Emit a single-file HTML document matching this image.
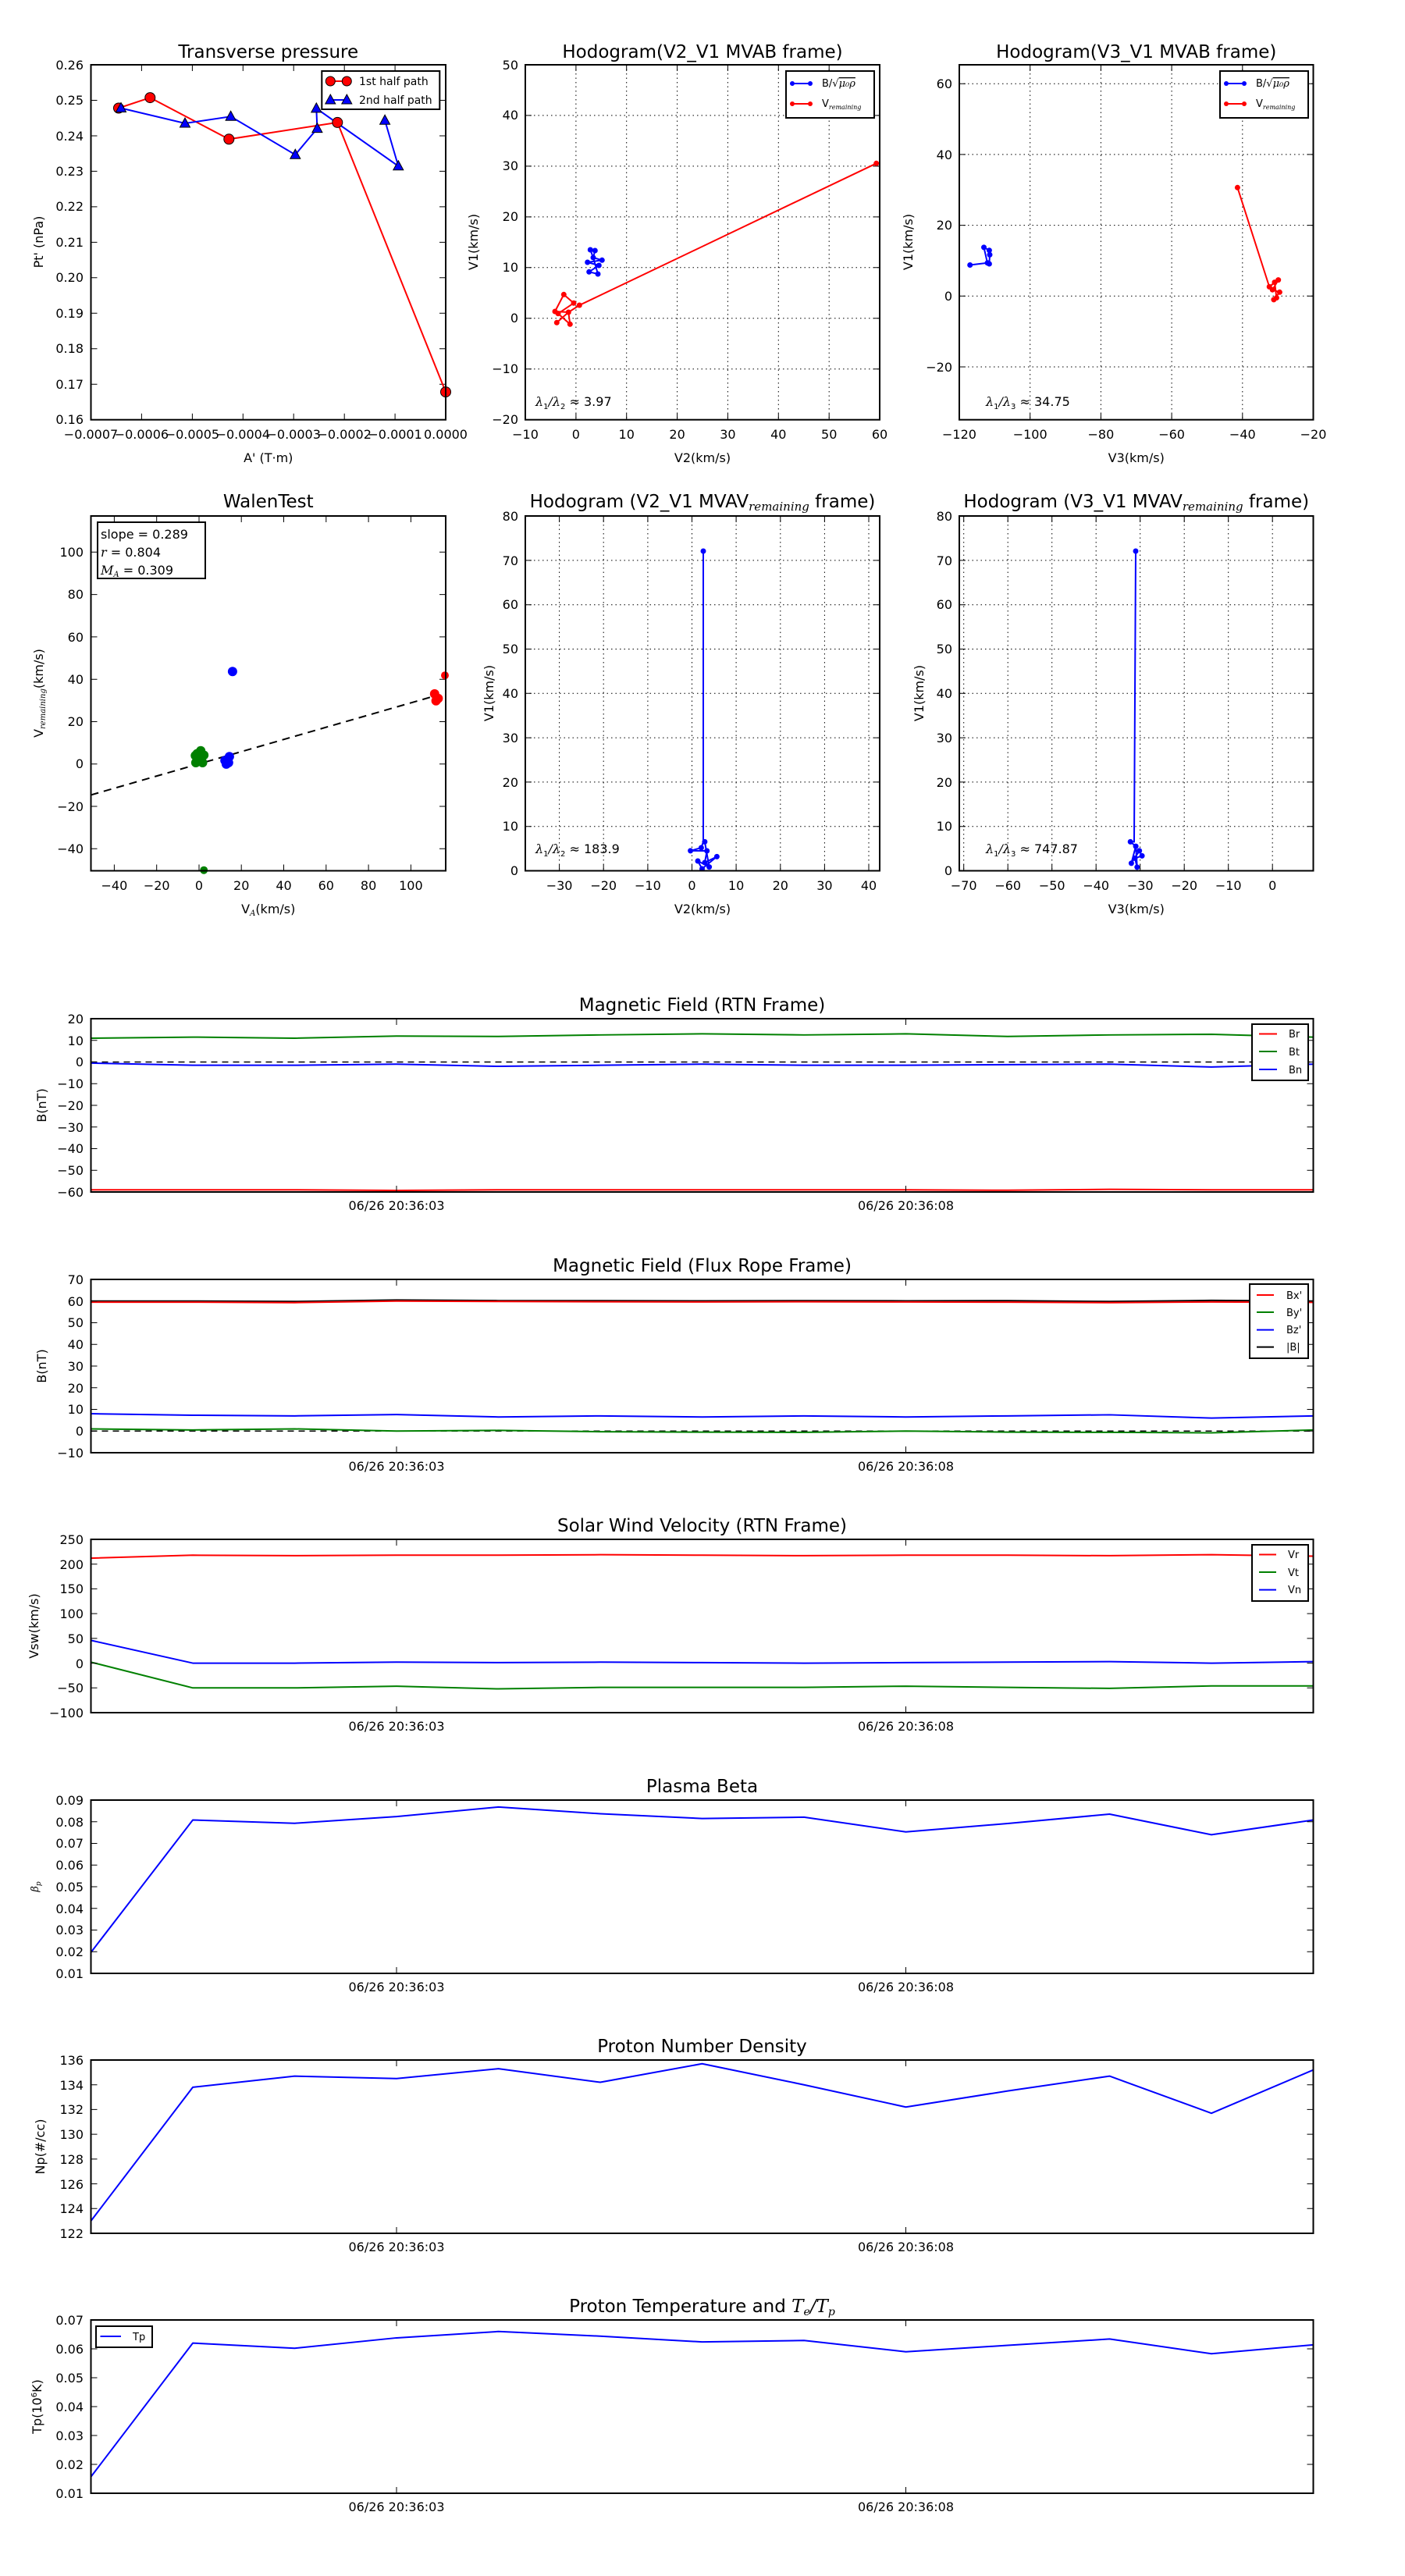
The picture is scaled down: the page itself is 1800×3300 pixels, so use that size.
<!DOCTYPE html>
<html><head><meta charset="utf-8"><style>
html,body{margin:0;padding:0;background:#fff}
svg{display:block}
text{font-family:"DejaVu Sans","Liberation Sans",sans-serif;fill:#000}
.t{font-size:23px;text-anchor:middle}
.k{font-size:16px}
.r{text-anchor:end}
.m{text-anchor:middle}
.fr{fill:none;stroke:#000;stroke-width:2}
.tk{fill:none;stroke:#000;stroke-width:1}
.gd{fill:none;stroke:#000;stroke-width:1;stroke-dasharray:1.5 4}
.ln{fill:none;stroke-width:2;vector-effect:non-scaling-stroke;stroke-linejoin:round}
.it{font-family:"DejaVu Serif","Liberation Serif",serif;font-style:italic}
</style></head><body>
<svg width="1800" height="3300" viewBox="0 0 1800 3300" xmlns="http://www.w3.org/2000/svg">
<rect width="1800" height="3300" fill="#fff"/>

<!-- ===== Plot 1: Transverse pressure ===== -->
<text class="t" x="343.75" y="74">Transverse pressure</text>
<path class="tk" d="M181.4 537.7v-8M246.4 537.7v-8M311.3 537.7v-8M376.2 537.7v-8M441.2 537.7v-8M506.1 537.7v-8M181.4 83v8M246.4 83v8M311.3 83v8M376.2 83v8M441.2 83v8M506.1 83v8
M116.5 492.2h8M116.5 446.8h8M116.5 401.3h8M116.5 355.8h8M116.5 310.4h8M116.5 264.9h8M116.5 219.4h8M116.5 174h8M116.5 128.5h8
M571 492.2h-8M571 446.8h-8M571 401.3h-8M571 355.8h-8M571 310.4h-8M571 264.9h-8M571 219.4h-8M571 174h-8M571 128.5h-8"/>
<g class="k r">
<text x="107" y="543">0.16</text><text x="107" y="498">0.17</text><text x="107" y="452">0.18</text><text x="107" y="407">0.19</text><text x="107" y="361">0.20</text><text x="107" y="316">0.21</text><text x="107" y="270">0.22</text><text x="107" y="225">0.23</text><text x="107" y="180">0.24</text><text x="107" y="134">0.25</text><text x="107" y="89">0.26</text>
</g>
<g class="k m">
<text x="116.5" y="562">−0.0007</text><text x="181.4" y="562">−0.0006</text><text x="246.4" y="562">−0.0005</text><text x="311.3" y="562">−0.0004</text><text x="376.2" y="562">−0.0003</text><text x="441.2" y="562">−0.0002</text><text x="506.1" y="562">−0.0001</text><text x="571" y="562">0.0000</text>
</g>
<text class="k m" x="343.75" y="592">A' (T·m)</text>
<text class="k m" transform="translate(55,310) rotate(-90)">Pt' (nPa)</text>
<polyline fill="none" stroke="#f00" stroke-width="2" points="152,138.5 192.3,125.1 293.3,178.3 432.3,156.9 571,502.1"/>
<polyline fill="none" stroke="#00f" stroke-width="2" points="155,138.5 237,158 295.6,149.3 378.3,198.2 406.4,164.6 405.3,138.9 510.3,212.8 493.1,154.2"/>
<g fill="#f00" stroke="#000" stroke-width="1">
<circle cx="152" cy="138.5" r="6.5"/><circle cx="192.3" cy="125.1" r="6.5"/><circle cx="293.3" cy="178.3" r="6.5"/><circle cx="432.3" cy="156.9" r="6.5"/><circle cx="571" cy="502.1" r="6.5"/>
</g>
<g fill="#00f" stroke="#000" stroke-width="1">
<path d="M155 131.5l6.5 12h-13z"/><path d="M237 151l6.5 12h-13z"/><path d="M295.6 142.3l6.5 12h-13z"/><path d="M378.3 191.2l6.5 12h-13z"/><path d="M406.4 157.6l6.5 12h-13z"/><path d="M405.3 131.9l6.5 12h-13z"/><path d="M510.3 205.8l6.5 12h-13z"/><path d="M493.1 147.2l6.5 12h-13z"/>
</g>
<rect x="412.3" y="91" width="151" height="49" fill="#fff" stroke="#000" stroke-width="2"/>
<line x1="423.3" y1="104" x2="444.3" y2="104" stroke="#f00" stroke-width="2"/>
<circle cx="423.3" cy="104" r="6" fill="#f00" stroke="#000"/><circle cx="444.3" cy="104" r="6" fill="#f00" stroke="#000"/>
<line x1="423.3" y1="128" x2="444.3" y2="128" stroke="#00f" stroke-width="2"/>
<path d="M423.3 121l6.5 12h-13z M444.3 121l6.5 12h-13z" fill="#00f" stroke="#000"/>
<text x="460" y="109" font-size="14">1st half path</text>
<text x="460" y="133" font-size="14">2nd half path</text>
<rect class="fr" x="116.5" y="83" width="454.5" height="454.7"/>

<!-- ===== Plot 2: Hodogram V2_V1 MVAB ===== -->
<text class="t" x="900" y="74">Hodogram(V2_V1 MVAB frame)</text>
<path class="gd" d="M737.9 83V537.7M802.7 83V537.7M867.6 83V537.7M932.4 83V537.7M997.3 83V537.7M1062.2 83V537.7M673 472.7H1127M673 407.8H1127M673 342.8H1127M673 277.9H1127M673 212.9H1127M673 147.9H1127"/>
<path class="tk" d="M737.9 537.7v-8M802.7 537.7v-8M867.6 537.7v-8M932.4 537.7v-8M997.3 537.7v-8M1062.2 537.7v-8M737.9 83v8M802.7 83v8M867.6 83v8M932.4 83v8M997.3 83v8M1062.2 83v8M673 472.7h8M673 407.8h8M673 342.8h8M673 277.9h8M673 212.9h8M673 147.9h8M1127 472.7h-8M1127 407.8h-8M1127 342.8h-8M1127 277.9h-8M1127 212.9h-8M1127 147.9h-8"/>
<g class="k r">
<text x="664" y="543">−20</text><text x="664" y="478">−10</text><text x="664" y="413">0</text><text x="664" y="348">10</text><text x="664" y="283">20</text><text x="664" y="218">30</text><text x="664" y="153">40</text><text x="664" y="89">50</text>
</g>
<g class="k m">
<text x="673" y="562">−10</text><text x="737.9" y="562">0</text><text x="802.7" y="562">10</text><text x="867.6" y="562">20</text><text x="932.4" y="562">30</text><text x="997.3" y="562">40</text><text x="1062.2" y="562">50</text><text x="1127" y="562">60</text>
</g>
<text class="k m" x="900" y="592">V2(km/s)</text>
<text class="k m" transform="translate(612,310) rotate(-90)">V1(km/s)</text>
<polyline fill="none" stroke="#00f" stroke-width="2" points="756.3,320 762.3,321 760,330 771.3,333.3 752.7,336 767.3,340 754.7,348.3 766,351 760,330 756.3,320"/>
<g fill="#00f"><circle cx="756.3" cy="320" r="3.5"/><circle cx="762.3" cy="321" r="3.5"/><circle cx="771.3" cy="333.3" r="3.5"/><circle cx="752.7" cy="336" r="3.5"/><circle cx="767.3" cy="340" r="3.5"/><circle cx="754.7" cy="348.3" r="3.5"/><circle cx="766" cy="351" r="3.5"/><circle cx="760" cy="330" r="3.5"/></g>
<polyline fill="none" stroke="#f00" stroke-width="2" points="713.3,413.3 728.3,400 711,399 722.3,377.3 735,388.3 715,401.7 730.3,415.3 728.3,400 742.3,391 1122.7,209.3"/>
<g fill="#f00"><circle cx="713.3" cy="413.3" r="3.5"/><circle cx="711" cy="399" r="3.5"/><circle cx="722.3" cy="377.3" r="3.5"/><circle cx="742.3" cy="391" r="3.5"/><circle cx="730.3" cy="415.3" r="3.5"/><circle cx="728.3" cy="400" r="3.5"/><circle cx="715" cy="401.7" r="3.5"/><circle cx="735" cy="388.3" r="3.5"/><circle cx="1122.7" cy="209.3" r="3.5"/></g>
<text x="686" y="520" font-size="16"><tspan class="it">λ</tspan><tspan font-size="10" dy="4">1</tspan><tspan dy="-4" class="it">/λ</tspan><tspan font-size="10" dy="4">2</tspan><tspan dy="-4"> ≈ 3.97</tspan></text>
<rect x="1007" y="91" width="113" height="60" fill="#fff" stroke="#000" stroke-width="2"/>
<line x1="1015" y1="107" x2="1038" y2="107" stroke="#00f" stroke-width="2"/><circle cx="1015" cy="107" r="3" fill="#00f"/><circle cx="1038" cy="107" r="3" fill="#00f"/>
<line x1="1015" y1="133" x2="1038" y2="133" stroke="#f00" stroke-width="2"/><circle cx="1015" cy="133" r="3" fill="#f00"/><circle cx="1038" cy="133" r="3" fill="#f00"/>
<text x="1053" y="111" font-size="13">B/√<tspan class="it" text-decoration="overline">μ₀ρ</tspan></text>
<text x="1053" y="137" font-size="13">V<tspan class="it" font-size="8" dy="3">remaining</tspan></text>
<rect class="fr" x="673" y="83" width="454" height="454.7"/>

<!-- ===== Plot 3: Hodogram V3_V1 MVAB ===== -->
<text class="t" x="1455.75" y="74">Hodogram(V3_V1 MVAB frame)</text>
<path class="gd" d="M1319.7 83V537.7M1410.4 83V537.7M1501.1 83V537.7M1591.8 83V537.7M1229 470H1682.5M1229 379.3H1682.5M1229 288.6H1682.5M1229 197.9H1682.5M1229 107.2H1682.5"/>
<path class="tk" d="M1319.7 537.7v-8M1410.4 537.7v-8M1501.1 537.7v-8M1591.8 537.7v-8M1319.7 83v8M1410.4 83v8M1501.1 83v8M1591.8 83v8M1229 470h8M1229 379.3h8M1229 288.6h8M1229 197.9h8M1229 107.2h8M1682.5 470h-8M1682.5 379.3h-8M1682.5 288.6h-8M1682.5 197.9h-8M1682.5 107.2h-8"/>
<g class="k r">
<text x="1220" y="476">−20</text><text x="1220" y="385">0</text><text x="1220" y="294">20</text><text x="1220" y="204">40</text><text x="1220" y="113">60</text>
</g>
<g class="k m">
<text x="1229" y="562">−120</text><text x="1319.7" y="562">−100</text><text x="1410.4" y="562">−80</text><text x="1501.1" y="562">−60</text><text x="1591.8" y="562">−40</text><text x="1682.5" y="562">−20</text>
</g>
<text class="k m" x="1455.75" y="592">V3(km/s)</text>
<text class="k m" transform="translate(1169,310) rotate(-90)">V1(km/s)</text>
<polyline fill="none" stroke="#00f" stroke-width="2" points="1242.7,339.5 1265,336.8 1267.4,338 1268,326.4 1267.4,320.7 1260.5,316.9 1265,336.8"/>
<g fill="#00f"><circle cx="1242.7" cy="339.5" r="3.5"/><circle cx="1260.5" cy="316.9" r="3.5"/><circle cx="1267.4" cy="320.7" r="3.5"/><circle cx="1268" cy="326.4" r="3.5"/><circle cx="1265" cy="336.8" r="3.5"/><circle cx="1267.4" cy="338" r="3.5"/></g>
<polyline fill="none" stroke="#f00" stroke-width="2" points="1585.4,240.3 1626.2,367.4 1637.7,358.6 1630.2,371.2 1639.4,374.3 1631.9,383.9 1635.4,381.5 1633,361.6 1626.2,367.4"/>
<g fill="#f00"><circle cx="1585.4" cy="240.3" r="3.5"/><circle cx="1626.2" cy="367.4" r="3.5"/><circle cx="1637.7" cy="358.6" r="3.5"/><circle cx="1639.4" cy="374.3" r="3.5"/><circle cx="1631.9" cy="383.9" r="3.5"/><circle cx="1635.4" cy="381.5" r="3.5"/><circle cx="1630.2" cy="371.2" r="3.5"/><circle cx="1633" cy="361.6" r="3.5"/></g>
<text x="1263" y="520" font-size="16"><tspan class="it">λ</tspan><tspan font-size="10" dy="4">1</tspan><tspan dy="-4" class="it">/λ</tspan><tspan font-size="10" dy="4">3</tspan><tspan dy="-4"> ≈ 34.75</tspan></text>
<rect x="1563" y="91" width="113" height="60" fill="#fff" stroke="#000" stroke-width="2"/>
<line x1="1571" y1="107" x2="1594" y2="107" stroke="#00f" stroke-width="2"/><circle cx="1571" cy="107" r="3" fill="#00f"/><circle cx="1594" cy="107" r="3" fill="#00f"/>
<line x1="1571" y1="133" x2="1594" y2="133" stroke="#f00" stroke-width="2"/><circle cx="1571" cy="133" r="3" fill="#f00"/><circle cx="1594" cy="133" r="3" fill="#f00"/>
<text x="1609" y="111" font-size="13">B/√<tspan class="it" text-decoration="overline">μ₀ρ</tspan></text>
<text x="1609" y="137" font-size="13">V<tspan class="it" font-size="8" dy="3">remaining</tspan></text>
<rect class="fr" x="1229" y="83" width="453.5" height="454.7"/>

<!-- ===== Row 2 Plot 1: WalenTest ===== -->
<text class="t" x="343.75" y="650">WalenTest</text>
<path class="tk" d="M146.4 1115.5v-8M200.7 1115.5v-8M255 1115.5v-8M309.2 1115.5v-8M363.5 1115.5v-8M417.8 1115.5v-8M472.1 1115.5v-8M526.4 1115.5v-8M146.4 661v8M200.7 661v8M255 661v8M309.2 661v8M363.5 661v8M417.8 661v8M472.1 661v8M526.4 661v8
M116.5 1087.3h8M116.5 1033h8M116.5 978.7h8M116.5 924.5h8M116.5 870.2h8M116.5 815.9h8M116.5 761.6h8M116.5 707.3h8M571 1087.3h-8M571 1033h-8M571 978.7h-8M571 924.5h-8M571 870.2h-8M571 815.9h-8M571 761.6h-8M571 707.3h-8"/>
<g class="k r">
<text x="107" y="1093">−40</text><text x="107" y="1039">−20</text><text x="107" y="984">0</text><text x="107" y="930">20</text><text x="107" y="876">40</text><text x="107" y="822">60</text><text x="107" y="767">80</text><text x="107" y="713">100</text>
</g>
<g class="k m">
<text x="146.4" y="1140">−40</text><text x="200.7" y="1140">−20</text><text x="255" y="1140">0</text><text x="309.2" y="1140">20</text><text x="363.5" y="1140">40</text><text x="417.8" y="1140">60</text><text x="472.1" y="1140">80</text><text x="526.4" y="1140">100</text>
</g>
<text class="k m" x="343.75" y="1170">V<tspan class="it" font-size="10" dy="3">A</tspan><tspan dy="-3">(km/s)</tspan></text>
<text class="k m" transform="translate(55,888) rotate(-90)">V<tspan class="it" font-size="10" dy="3">remaining</tspan><tspan dy="-3">(km/s)</tspan></text>
<line x1="116.5" y1="1018.4" x2="559.7" y2="890.8" stroke="#000" stroke-width="2" stroke-dasharray="10 7"/>
<g fill="#008000"><circle cx="250.9" cy="977" r="6"/><circle cx="252.6" cy="965.5" r="6"/><circle cx="257.2" cy="961.7" r="6"/><circle cx="261.2" cy="967.4" r="6"/><circle cx="259.5" cy="977" r="6"/><circle cx="255.5" cy="971.2" r="6"/><circle cx="250.3" cy="968" r="6"/><circle cx="261.2" cy="1114.7" r="5"/></g>
<g fill="#00f"><circle cx="289.9" cy="978.9" r="6"/><circle cx="293.9" cy="969.3" r="6"/><circle cx="288.2" cy="974.3" r="6"/><circle cx="292.8" cy="977" r="6"/><circle cx="297.9" cy="860.2" r="6"/></g>
<g fill="#f00"><circle cx="556.8" cy="888.9" r="6"/><circle cx="561.4" cy="894.7" r="6"/><circle cx="558.6" cy="897.7" r="6"/><circle cx="570" cy="865.2" r="5"/></g>
<rect x="125" y="669" width="138" height="72" fill="#fff" stroke="#000" stroke-width="2"/>
<text x="129" y="690" font-size="16">slope = 0.289</text>
<text x="129" y="713" font-size="16"><tspan class="it">r</tspan> = 0.804</text>
<text x="129" y="736" font-size="16"><tspan class="it">M</tspan><tspan class="it" font-size="10" dy="3">A</tspan><tspan dy="-3"> = 0.309</tspan></text>
<rect class="fr" x="116.5" y="661" width="454.5" height="454.5"/>

<!-- ===== Row 2 Plot 2 ===== -->
<text class="t" x="900" y="650">Hodogram (V2_V1 MVAV<tspan class="it" font-size="15" dy="4">remaining</tspan><tspan dy="-4"> frame)</tspan></text>
<path class="gd" d="M716.6 661V1115.5M773.2 661V1115.5M829.9 661V1115.5M886.5 661V1115.5M943.1 661V1115.5M999.8 661V1115.5M1056.4 661V1115.5M1113 661V1115.5M673 1058.7H1127M673 1001.9H1127M673 945.1H1127M673 888.3H1127M673 831.5H1127M673 774.7H1127M673 717.9H1127"/>
<path class="tk" d="M673 1058.7h8M673 1001.9h8M673 945.1h8M673 888.3h8M673 831.5h8M673 774.7h8M673 717.9h8M1127 1058.7h-8M1127 1001.9h-8M1127 945.1h-8M1127 888.3h-8M1127 831.5h-8M1127 774.7h-8M1127 717.9h-8M716.6 1115.5v-8M773.2 1115.5v-8M829.9 1115.5v-8M886.5 1115.5v-8M943.1 1115.5v-8M999.8 1115.5v-8M1056.4 1115.5v-8M1113 1115.5v-8M716.6 661v8M773.2 661v8M829.9 661v8M886.5 661v8M943.1 661v8M999.8 661v8M1056.4 661v8M1113 661v8"/>
<g class="k r">
<text x="664" y="1121">0</text><text x="664" y="1064">10</text><text x="664" y="1008">20</text><text x="664" y="951">30</text><text x="664" y="894">40</text><text x="664" y="837">50</text><text x="664" y="780">60</text><text x="664" y="724">70</text><text x="664" y="667">80</text>
</g>
<g class="k m">
<text x="716.6" y="1140">−30</text><text x="773.2" y="1140">−20</text><text x="829.9" y="1140">−10</text><text x="886.5" y="1140">0</text><text x="943.1" y="1140">10</text><text x="999.8" y="1140">20</text><text x="1056.4" y="1140">30</text><text x="1113" y="1140">40</text>
</g>
<text class="k m" x="900" y="1170">V2(km/s)</text>
<text class="k m" transform="translate(632,888) rotate(-90)">V1(km/s)</text>
<polyline fill="none" stroke="#00f" stroke-width="2" points="901,706 901,1078.4 898.4,1086 884.6,1089.9 905.7,1090 902.9,1105 918.4,1097.4 899.5,1113 894,1103 908.6,1110.6 902.9,1078.4"/>
<g fill="#00f"><circle cx="901" cy="706" r="3.5"/><circle cx="902.9" cy="1078.4" r="3.5"/><circle cx="898.4" cy="1086" r="3.5"/><circle cx="884.6" cy="1089.9" r="3.5"/><circle cx="905.7" cy="1090" r="3.5"/><circle cx="902.9" cy="1105" r="3.5"/><circle cx="918.4" cy="1097.4" r="3.5"/><circle cx="899.5" cy="1113" r="3.5"/><circle cx="894" cy="1103" r="3.5"/><circle cx="908.6" cy="1110.6" r="3.5"/></g>
<text x="686" y="1093" font-size="16"><tspan class="it">λ</tspan><tspan font-size="10" dy="4">1</tspan><tspan dy="-4" class="it">/λ</tspan><tspan font-size="10" dy="4">2</tspan><tspan dy="-4"> ≈ 183.9</tspan></text>
<rect class="fr" x="673" y="661" width="454" height="454.5"/>

<!-- ===== Row 2 Plot 3 ===== -->
<text class="t" x="1455.75" y="650">Hodogram (V3_V1 MVAV<tspan class="it" font-size="15" dy="4">remaining</tspan><tspan dy="-4"> frame)</tspan></text>
<path class="gd" d="M1234.7 661V1115.5M1291.2 661V1115.5M1347.7 661V1115.5M1404.2 661V1115.5M1460.7 661V1115.5M1517.2 661V1115.5M1573.7 661V1115.5M1630.2 661V1115.5M1229 1058.7H1682.5M1229 1001.9H1682.5M1229 945.1H1682.5M1229 888.3H1682.5M1229 831.5H1682.5M1229 774.7H1682.5M1229 717.9H1682.5"/>
<path class="tk" d="M1229 1058.7h8M1229 1001.9h8M1229 945.1h8M1229 888.3h8M1229 831.5h8M1229 774.7h8M1229 717.9h8M1682.5 1058.7h-8M1682.5 1001.9h-8M1682.5 945.1h-8M1682.5 888.3h-8M1682.5 831.5h-8M1682.5 774.7h-8M1682.5 717.9h-8M1234.7 1115.5v-8M1291.2 1115.5v-8M1347.7 1115.5v-8M1404.2 1115.5v-8M1460.7 1115.5v-8M1517.2 1115.5v-8M1573.7 1115.5v-8M1630.2 1115.5v-8M1234.7 661v8M1291.2 661v8M1347.7 661v8M1404.2 661v8M1460.7 661v8M1517.2 661v8M1573.7 661v8M1630.2 661v8"/>
<g class="k r">
<text x="1220" y="1121">0</text><text x="1220" y="1064">10</text><text x="1220" y="1008">20</text><text x="1220" y="951">30</text><text x="1220" y="894">40</text><text x="1220" y="837">50</text><text x="1220" y="780">60</text><text x="1220" y="724">70</text><text x="1220" y="667">80</text>
</g>
<g class="k m">
<text x="1234.7" y="1140">−70</text><text x="1291.2" y="1140">−60</text><text x="1347.7" y="1140">−50</text><text x="1404.2" y="1140">−40</text><text x="1460.7" y="1140">−30</text><text x="1517.2" y="1140">−20</text><text x="1573.7" y="1140">−10</text><text x="1630.2" y="1140">0</text>
</g>
<text class="k m" x="1455.75" y="1170">V3(km/s)</text>
<text class="k m" transform="translate(1183,888) rotate(-90)">V1(km/s)</text>
<polyline fill="none" stroke="#00f" stroke-width="2" points="1455,706 1453,1078.4 1448.2,1078.4 1455.1,1084.1 1449.4,1105.9 1459.7,1089.9 1463.1,1096.4 1454,1099.4 1456.8,1110.9 1455.1,1084.1"/>
<g fill="#00f"><circle cx="1455" cy="706" r="3.5"/><circle cx="1448.2" cy="1078.4" r="3.5"/><circle cx="1455.1" cy="1084.1" r="3.5"/><circle cx="1459.7" cy="1089.9" r="3.5"/><circle cx="1463.1" cy="1096.4" r="3.5"/><circle cx="1449.4" cy="1105.9" r="3.5"/><circle cx="1456.8" cy="1110.9" r="3.5"/><circle cx="1454" cy="1099.4" r="3.5"/></g>
<text x="1263" y="1093" font-size="16"><tspan class="it">λ</tspan><tspan font-size="10" dy="4">1</tspan><tspan dy="-4" class="it">/λ</tspan><tspan font-size="10" dy="4">3</tspan><tspan dy="-4"> ≈ 747.87</tspan></text>
<rect class="fr" x="1229" y="661" width="453.5" height="454.5"/>

<!-- ===== Time series panels: x 116.5..1682.5 ===== -->
<!-- Panel 1 -->
<text class="t" x="899.5" y="1295">Magnetic Field (RTN Frame)</text>
<line x1="116.5" y1="1360.5" x2="1682.5" y2="1360.5" stroke="#000" stroke-width="1.5" stroke-dasharray="8 6"/>
<g transform="translate(116.5,1527) scale(130.5,-2.775) translate(0,60)">
<polyline class="ln" stroke="#f00" points="0,-59 1,-59 2,-59 3,-59.3 4,-59 5,-59 6,-59 7,-59 8,-59 9,-59.2 10,-58.8 11,-59 12,-59"/>
<polyline class="ln" stroke="#008000" points="0,11 1,11.5 2,11 3,12 4,11.8 5,12.5 6,13 7,12.5 8,13 9,11.8 10,12.5 11,12.8 12,11.5"/>
<polyline class="ln" stroke="#00f" points="0,-0.5 1,-1.5 2,-1.5 3,-1 4,-2 5,-1.5 6,-1 7,-1.5 8,-1.5 9,-1.2 10,-1 11,-2.3 12,-1"/>
</g>
<path class="tk" d="M116.5 1332.75h8M116.5 1360.5h8M116.5 1388.25h8M116.5 1416h8M116.5 1443.75h8M116.5 1471.5h8M116.5 1499.25h8M1682.5 1332.75h-8M1682.5 1360.5h-8M1682.5 1388.25h-8M1682.5 1416h-8M1682.5 1443.75h-8M1682.5 1471.5h-8M1682.5 1499.25h-8M508 1305v8M1160.5 1305v8M508 1527v-8M1160.5 1527v-8"/>
<g class="k r"><text x="107" y="1311">20</text><text x="107" y="1339">10</text><text x="107" y="1366">0</text><text x="107" y="1394">−10</text><text x="107" y="1422">−20</text><text x="107" y="1450">−30</text><text x="107" y="1477">−40</text><text x="107" y="1505">−50</text><text x="107" y="1533">−60</text></g>
<g class="k m"><text x="508" y="1550">06/26 20:36:03</text><text x="1160.5" y="1550">06/26 20:36:08</text></g>
<text class="k m" transform="translate(59,1416) rotate(-90)">B(nT)</text>
<rect x="1604" y="1312" width="72" height="72" fill="#fff" stroke="#000" stroke-width="2"/>
<line x1="1613" y1="1324.5" x2="1636" y2="1324.5" stroke="#f00" stroke-width="2"/><line x1="1613" y1="1347" x2="1636" y2="1347" stroke="#008000" stroke-width="2"/><line x1="1613" y1="1370" x2="1636" y2="1370" stroke="#00f" stroke-width="2"/>
<text x="1651" y="1329" font-size="13">Br</text><text x="1651" y="1352" font-size="13">Bt</text><text x="1651" y="1375" font-size="13">Bn</text>
<rect class="fr" x="116.5" y="1305" width="1566" height="222"/>

<!-- Panel 2 -->
<text class="t" x="899.5" y="1629">Magnetic Field (Flux Rope Frame)</text>
<line x1="116.5" y1="1833.25" x2="1682.5" y2="1833.25" stroke="#000" stroke-width="1.5" stroke-dasharray="8 6"/>
<g transform="translate(116.5,1861) scale(130.5,-2.775) translate(0,10)">
<polyline class="ln" stroke="#000" points="0,60 1,60 2,59.8 3,60.5 4,60.2 5,60.2 6,60.1 7,60.2 8,60.1 9,60.2 10,59.8 11,60.3 12,60"/>
<polyline class="ln" stroke="#f00" points="0,59.5 1,59.5 2,59.3 3,60 4,59.8 5,59.7 6,59.6 7,59.7 8,59.6 9,59.5 10,59.3 11,59.6 12,59.4"/>
<polyline class="ln" stroke="#008000" points="0,1 1,0.5 2,1 3,0 4,0.3 5,-0.3 6,-0.5 7,-0.6 8,0 9,-0.5 10,-0.6 11,-0.8 12,0.5"/>
<polyline class="ln" stroke="#00f" points="0,8 1,7.3 2,7 3,7.6 4,6.5 5,7 6,6.5 7,7 8,6.5 9,7 10,7.5 11,6 12,7"/>
</g>
<path class="tk" d="M116.5 1666.75h8M116.5 1694.5h8M116.5 1722.25h8M116.5 1750h8M116.5 1777.75h8M116.5 1805.5h8M116.5 1833.25h8M1682.5 1666.75h-8M1682.5 1694.5h-8M1682.5 1722.25h-8M1682.5 1750h-8M1682.5 1777.75h-8M1682.5 1805.5h-8M1682.5 1833.25h-8M508 1639v8M1160.5 1639v8M508 1861v-8M1160.5 1861v-8"/>
<g class="k r"><text x="107" y="1645">70</text><text x="107" y="1673">60</text><text x="107" y="1700">50</text><text x="107" y="1728">40</text><text x="107" y="1756">30</text><text x="107" y="1784">20</text><text x="107" y="1811">10</text><text x="107" y="1839">0</text><text x="107" y="1867">−10</text></g>
<g class="k m"><text x="508" y="1884">06/26 20:36:03</text><text x="1160.5" y="1884">06/26 20:36:08</text></g>
<text class="k m" transform="translate(59,1750) rotate(-90)">B(nT)</text>
<rect x="1601" y="1645" width="75" height="95" fill="#fff" stroke="#000" stroke-width="2"/>
<line x1="1610" y1="1659" x2="1632" y2="1659" stroke="#f00" stroke-width="2"/><line x1="1610" y1="1681" x2="1632" y2="1681" stroke="#008000" stroke-width="2"/><line x1="1610" y1="1703.6" x2="1632" y2="1703.6" stroke="#00f" stroke-width="2"/><line x1="1610" y1="1725.6" x2="1632" y2="1725.6" stroke="#000" stroke-width="2"/>
<text x="1648" y="1664" font-size="13">Bx'</text><text x="1648" y="1686" font-size="13">By'</text><text x="1648" y="1708" font-size="13">Bz'</text><text x="1648" y="1730" font-size="13">|B|</text>
<rect class="fr" x="116.5" y="1639" width="1566" height="222"/>

<!-- Panel 3 -->
<text class="t" x="899.5" y="1962">Solar Wind Velocity (RTN Frame)</text>
<g transform="translate(116.5,2194) scale(130.5,-0.6343) translate(0,100)">
<polyline class="ln" stroke="#f00" points="0,212 1,218 2,217 3,218 4,218 5,219 6,218 7,217 8,218 9,218 10,217 11,219 12,216"/>
<polyline class="ln" stroke="#00f" points="0,46 1,0 2,0 3,2 4,1 5,2 6,1 7,0 8,1 9,2 10,3 11,0 12,3"/>
<polyline class="ln" stroke="#008000" points="0,2 1,-50 2,-50 3,-46.5 4,-52 5,-49 6,-49 7,-49 8,-46.5 9,-49 10,-51 11,-46 12,-46"/>
</g>
<path class="tk" d="M116.5 2003.7h8M116.5 2035.4h8M116.5 2067.1h8M116.5 2098.9h8M116.5 2130.6h8M116.5 2162.3h8M1682.5 2003.7h-8M1682.5 2035.4h-8M1682.5 2067.1h-8M1682.5 2098.9h-8M1682.5 2130.6h-8M1682.5 2162.3h-8M508 1972v8M1160.5 1972v8M508 2194v-8M1160.5 2194v-8"/>
<g class="k r"><text x="107" y="1978">250</text><text x="107" y="2010">200</text><text x="107" y="2041">150</text><text x="107" y="2073">100</text><text x="107" y="2105">50</text><text x="107" y="2137">0</text><text x="107" y="2168">−50</text><text x="107" y="2200">−100</text></g>
<g class="k m"><text x="508" y="2217">06/26 20:36:03</text><text x="1160.5" y="2217">06/26 20:36:08</text></g>
<text class="k m" transform="translate(49,2083) rotate(-90)">Vsw(km/s)</text>
<rect x="1604" y="1979" width="72" height="72" fill="#fff" stroke="#000" stroke-width="2"/>
<line x1="1613" y1="1991.5" x2="1635" y2="1991.5" stroke="#f00" stroke-width="2"/><line x1="1613" y1="2014" x2="1635" y2="2014" stroke="#008000" stroke-width="2"/><line x1="1613" y1="2036.6" x2="1635" y2="2036.6" stroke="#00f" stroke-width="2"/>
<text x="1650" y="1996" font-size="13">Vr</text><text x="1650" y="2019" font-size="13">Vt</text><text x="1650" y="2041" font-size="13">Vn</text>
<rect class="fr" x="116.5" y="1972" width="1566" height="222"/>

<!-- Panel 4 -->
<text class="t" x="899.5" y="2296">Plasma Beta</text>
<g transform="translate(116.5,2528) scale(130.5,-2775) translate(0,-0.01)">
<polyline class="ln" stroke="#00f" points="0,0.0197 1,0.0808 2,0.0793 3,0.0824 4,0.0868 5,0.0837 6,0.0815 7,0.0821 8,0.0753 9,0.0792 10,0.0835 11,0.074 12,0.0808"/>
</g>
<path class="tk" d="M116.5 2333.75h8M116.5 2361.5h8M116.5 2389.25h8M116.5 2417h8M116.5 2444.75h8M116.5 2472.5h8M116.5 2500.25h8M1682.5 2333.75h-8M1682.5 2361.5h-8M1682.5 2389.25h-8M1682.5 2417h-8M1682.5 2444.75h-8M1682.5 2472.5h-8M1682.5 2500.25h-8M508 2306v8M1160.5 2306v8M508 2528v-8M1160.5 2528v-8"/>
<g class="k r"><text x="107" y="2312">0.09</text><text x="107" y="2340">0.08</text><text x="107" y="2367">0.07</text><text x="107" y="2395">0.06</text><text x="107" y="2423">0.05</text><text x="107" y="2451">0.04</text><text x="107" y="2478">0.03</text><text x="107" y="2506">0.02</text><text x="107" y="2534">0.01</text></g>
<g class="k m"><text x="508" y="2551">06/26 20:36:03</text><text x="1160.5" y="2551">06/26 20:36:08</text></g>
<text class="m it" font-size="13" transform="translate(49,2417) rotate(-90)">β<tspan font-size="9" dy="3">p</tspan></text>
<rect class="fr" x="116.5" y="2306" width="1566" height="222"/>

<!-- Panel 5 -->
<text class="t" x="899.5" y="2629">Proton Number Density</text>
<g transform="translate(116.5,2861) scale(130.5,-15.857) translate(0,-122)">
<polyline class="ln" stroke="#00f" points="0,123 1,133.8 2,134.7 3,134.5 4,135.3 5,134.2 6,135.7 7,134 8,132.2 9,133.5 10,134.7 11,131.7 12,135.2"/>
</g>
<path class="tk" d="M116.5 2670.7h8M116.5 2702.4h8M116.5 2734.1h8M116.5 2765.9h8M116.5 2797.6h8M116.5 2829.3h8M1682.5 2670.7h-8M1682.5 2702.4h-8M1682.5 2734.1h-8M1682.5 2765.9h-8M1682.5 2797.6h-8M1682.5 2829.3h-8M508 2639v8M1160.5 2639v8M508 2861v-8M1160.5 2861v-8"/>
<g class="k r"><text x="107" y="2645">136</text><text x="107" y="2677">134</text><text x="107" y="2708">132</text><text x="107" y="2740">130</text><text x="107" y="2772">128</text><text x="107" y="2804">126</text><text x="107" y="2835">124</text><text x="107" y="2867">122</text></g>
<g class="k m"><text x="508" y="2884">06/26 20:36:03</text><text x="1160.5" y="2884">06/26 20:36:08</text></g>
<text class="k m" transform="translate(57,2750) rotate(-90)">Np(#/cc)</text>
<rect class="fr" x="116.5" y="2639" width="1566" height="222"/>

<!-- Panel 6 -->
<text class="t" x="899.5" y="2962">Proton Temperature and <tspan class="it">T</tspan><tspan class="it" font-size="14" dy="4">e</tspan><tspan dy="-4" class="it">/T</tspan><tspan class="it" font-size="14" dy="4">p</tspan></text>
<g transform="translate(116.5,3194) scale(130.5,-3700) translate(0,-0.01)">
<polyline class="ln" stroke="#00f" points="0,0.0157 1,0.062 2,0.0602 3,0.0638 4,0.066 5,0.0644 6,0.0624 7,0.0629 8,0.059 9,0.0612 10,0.0634 11,0.0583 12,0.0614"/>
</g>
<path class="tk" d="M116.5 3009h8M116.5 3046h8M116.5 3083h8M116.5 3120h8M116.5 3157h8M1682.5 3009h-8M1682.5 3046h-8M1682.5 3083h-8M1682.5 3120h-8M1682.5 3157h-8M508 2972v8M1160.5 2972v8M508 3194v-8M1160.5 3194v-8"/>
<g class="k r"><text x="107" y="2978">0.07</text><text x="107" y="3015">0.06</text><text x="107" y="3052">0.05</text><text x="107" y="3089">0.04</text><text x="107" y="3126">0.03</text><text x="107" y="3163">0.02</text><text x="107" y="3200">0.01</text></g>
<g class="k m"><text x="508" y="3217">06/26 20:36:03</text><text x="1160.5" y="3217">06/26 20:36:08</text></g>
<text class="k m" transform="translate(53,3083) rotate(-90)">Tp(10<tspan font-size="10" dy="-6">6</tspan><tspan dy="6">K)</tspan></text>
<rect x="123" y="2980" width="72" height="27" fill="#fff" stroke="#000" stroke-width="2"/>
<line x1="128.5" y1="2993" x2="155" y2="2993" stroke="#00f" stroke-width="2"/>
<text x="170" y="2998" font-size="13">Tp</text>
<rect class="fr" x="116.5" y="2972" width="1566" height="222"/>
</svg>
</body></html>
